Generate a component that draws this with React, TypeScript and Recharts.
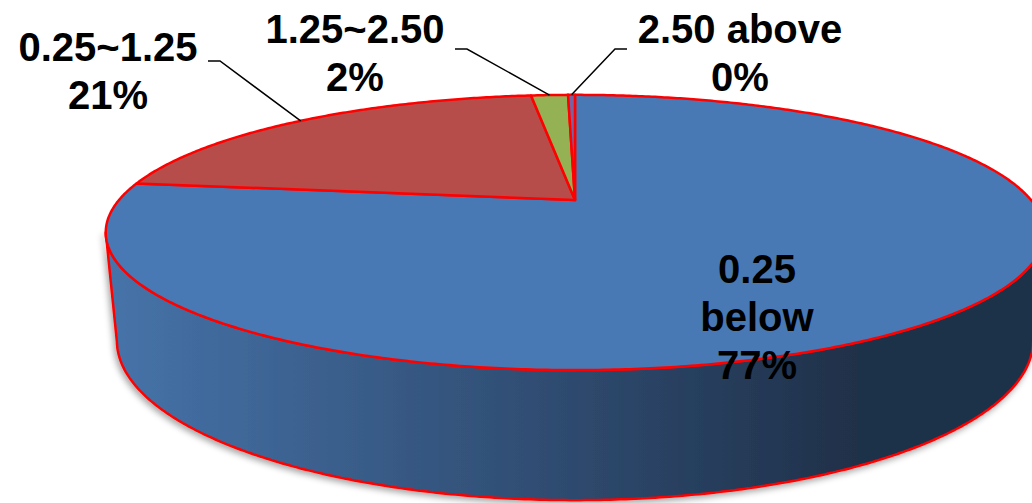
import { PieChart, Pie, Cell } from 'recharts'

// Share of samples per range
const CATEGORIES = ['0.25 below', '0.25~1.25', '1.25~2.50', '2.50 above']
const SHARES = [77.1, 21.0, 1.6, 0.3]

const SLICE_COLORS = ['#4879B4', '#B74D4A', '#94B154', '#7C61A0']
// side wall: light edge on the left, shaded edge on the right
const WALL_COLORS = [
  ['#4673A9', '#1F3049'],
  ['#B04A47', '#4E2221'],
  ['#8EAA50', '#404C24'],
  ['#775D9A', '#352A45'],
]
const EDGE = '#FF0000'

const data = CATEGORIES.map((name, i) => ({ name, value: SHARES[i] }))

// 3D look: tilt of the top face, wall height, perspective strength
const TILT = 0.285
const DEPTH = 0.233
const PERSP = 0.236
const SINK = 0.023
const SILHOUETTE = (Math.asin(PERSP) * 180) / Math.PI

const LABEL_FONT = {
  fontFamily: '"Liberation Sans", Arial, sans-serif',
  fontWeight: 700,
  fontSize: 40,
}
const LINE_HEIGHT = 48

// where each label sits; outside labels get a leader with a short elbow
const LABEL_LAYOUT = [
  { x: 757, y: 283, wrap: true },
  { x: 108, y: 61, elbow: [220, 61], end: [208, 61] },
  { x: 355, y: 43, elbow: [467, 49], end: [455, 49] },
  { x: 740, y: 43, elbow: [615, 49], end: [627, 49] },
]

function project(cx: number, cy: number, r: number, deg: number, level: number) {
  const a = (deg * Math.PI) / 180
  const u = Math.cos(a)
  const z = -Math.sin(a)
  const w = 1 - PERSP * z + SINK * level
  return [cx + (r * u) / w, cy + (r * (TILT * z + DEPTH * level)) / w]
}

function arc(cx: number, cy: number, r: number, from: number, to: number, level: number) {
  const n = Math.max(2, Math.ceil(Math.abs(to - from) / 0.5))
  const pts: number[][] = []
  for (let i = 0; i <= n; i++) pts.push(project(cx, cy, r, from + ((to - from) * i) / n, level))
  return pts
}

const toPath = (pts: number[][]) =>
  pts.map((p, i) => `${i ? 'L' : 'M'}${p[0].toFixed(2)},${p[1].toFixed(2)}`).join(' ')

function indexOf(props: any) {
  const name = props.name ?? props.payload?.name
  const i = CATEGORIES.indexOf(name)
  return i < 0 ? props.index ?? 0 : i
}

function Slice3D(props: any) {
  const { cx, cy, outerRadius: r, startAngle, endAngle, fill } = props
  const i = indexOf(props)
  const hi = Math.max(startAngle, endAngle)
  const lo = Math.min(startAngle, endAngle)

  // front wall: only the part of the rim that faces the viewer
  const walls: string[] = []
  for (let k = -1; k <= 1; k++) {
    const a0 = Math.max(lo, -180 + SILHOUETTE + 360 * k)
    const a1 = Math.min(hi, -SILHOUETTE + 360 * k)
    if (a1 > a0) {
      const top = arc(cx, cy, r, a0, a1, 0)
      const bottom = arc(cx, cy, r, a1, a0, 1)
      walls.push(toPath([...top, ...bottom]) + ' Z')
    }
  }

  const face = toPath([[cx, cy], ...arc(cx, cy, r, startAngle, endAngle, 0)]) + ' Z'

  return (
    <g>
      <defs>
        <linearGradient id={`wall-${i}`} gradientUnits="userSpaceOnUse" x1={110} y1={0} x2={860} y2={0}>
          <stop offset="0%" stopColor={WALL_COLORS[i][0]} />
          <stop offset="100%" stopColor={WALL_COLORS[i][1]} />
        </linearGradient>
        <filter id={`wall-shadow-${i}`} x="-5%" y="-10%" width="110%" height="130%">
          <feDropShadow dx={-2} dy={3} stdDeviation={3} floodColor="#000" floodOpacity={0.35} />
        </filter>
      </defs>
      {walls.map((d, k) => (
        <path key={k} d={d} fill={`url(#wall-${i})`} stroke={EDGE} strokeWidth={2.5}
          strokeLinejoin="round" filter={`url(#wall-shadow-${i})`} />
      ))}
      <path d={face} fill={fill} stroke={EDGE} strokeWidth={2.5} strokeLinejoin="round" />
    </g>
  )
}

function SliceLabel(props: any) {
  const { cx, cy, outerRadius: r, midAngle, percent } = props
  const i = indexOf(props)
  const name = CATEGORIES[i]
  const layout: any = LABEL_LAYOUT[i]
  const pct = `${Math.round(percent * 100)}%`
  const lines = layout.wrap ? [...name.split(' '), pct] : [name, pct]

  let leader = null
  if (layout.elbow) {
    const anchor = project(cx, cy, r, midAngle, 0)
    leader = (
      <polyline
        points={[anchor, layout.elbow, layout.end].map(p => p.join(',')).join(' ')}
        fill="none" stroke="#000" strokeWidth={1.5} />
    )
  }

  return (
    <g>
      {leader}
      <text x={layout.x} y={layout.y} textAnchor="middle" fill="#000" {...LABEL_FONT}>
        {lines.map((t, k) => (
          <tspan key={k} x={layout.x} dy={k ? LINE_HEIGHT : 0}>{t}</tspan>
        ))}
      </text>
    </g>
  )
}

export default function App() {
  return (
    <div style={{ position: 'fixed', left: 0, top: 0, width: 1032, height: 503, background: '#fff' }}>
      <PieChart width={1032} height={503} margin={{ top: 0, right: 0, bottom: 0, left: 0 }}>
        <Pie
          data={data}
          dataKey="value"
          nameKey="name"
          cx={575}
          cy={200}
          outerRadius={456}
          startAngle={90}
          endAngle={-270}
          shape={Slice3D}
          label={SliceLabel}
          labelLine={false}
          isAnimationActive={false}
        >
          {data.map((d, i) => (
            <Cell key={d.name} fill={SLICE_COLORS[i]} />
          ))}
        </Pie>
      </PieChart>
    </div>
  )
}
